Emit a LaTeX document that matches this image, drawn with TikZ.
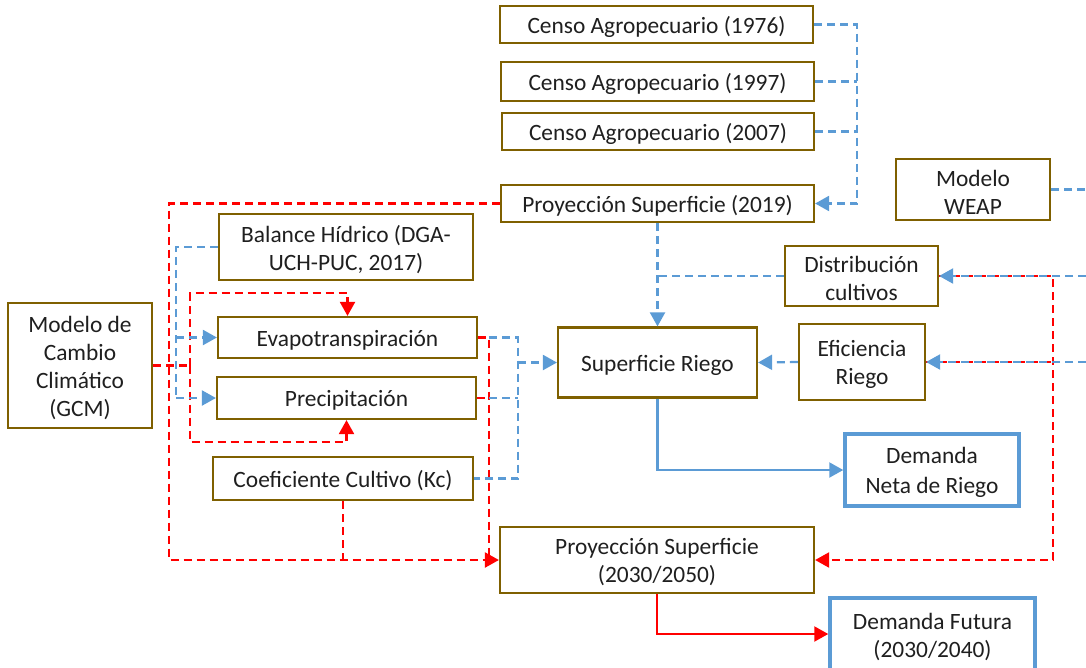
\documentclass[tikz,border=0pt]{standalone}
\usepackage{fontspec}
\setmainfont{Carlito}
\usetikzlibrary{arrows.meta}
\definecolor{boxbrown}{HTML}{7F6000}
\definecolor{flowblue}{HTML}{5B9BD5}
\definecolor{flowred}{HTML}{FF0000}
% frame node plus its label, set slightly low as in the slide layout
\newcommand{\boxnode}[7][box]{%
  \node[#1, minimum width=#5pt, minimum height=#6pt] (#2) at (#3,#4) {};
  \node[boxtext] at (#3,#4+2.5) {#7};}
\begin{document}
\begin{tikzpicture}[x=1pt,y=-1pt,
  box/.style={draw=boxbrown, line width=2.2pt, fill=white, inner sep=0pt},
  outbox/.style={box, draw=flowblue, line width=3.5pt},
  boxtext/.style={inner sep=0pt, align=center,
    font=\fontsize{23.4}{28}\selectfont, text=black!88},
  tip/.style={-{Triangle[length=14pt,width=15pt]}},
  bd/.style={draw=flowblue, line width=2.2pt, dash pattern=on 8pt off 5pt},
  rd/.style={draw=flowred, line width=2.2pt, dash pattern=on 8pt off 5pt},
  bs/.style={draw=flowblue, line width=2.2pt},
  rs/.style={draw=flowred, line width=2.2pt}]
\useasboundingbox (0,0) rectangle (1086,667);

% ---- boxes ----
\boxnode{c76}{656.5}{24.5}{313}{37}{Censo Agropecuario (1976)}
\boxnode{c97}{657.5}{81.5}{313}{39}{Censo Agropecuario (1997)}
\boxnode{c07}{658}{131.5}{312}{37}{Censo Agropecuario (2007)}
\boxnode{p19}{657.5}{203.5}{313}{37}{Proyección Superficie (2019)}
\boxnode{weap}{973}{189.5}{154}{61}{Modelo\\WEAP}
\boxnode{bal}{346}{247}{254}{66}{Balance Hídrico (DGA-\\UCH-PUC, 2017)}
\boxnode{evap}{347.5}{337.5}{259}{41}{Evapotranspiración}
\boxnode{prec}{346.5}{398}{259}{42}{Precipitación}
\boxnode{kc}{343}{478.5}{260}{43}{Coeficiente Cultivo (Kc)}
\boxnode{gcm}{80}{365.5}{144}{125}{Modelo de\\Cambio\\Climático\\(GCM)}
\boxnode{dist}{861.5}{276}{153}{60}{Distribución\\cultivos}
\boxnode{efic}{862}{362}{126}{76}{Eficiencia\\Riego}
\boxnode{sr}{657.5}{362.5}{199}{70}{Superficie Riego}
\boxnode[outbox]{dn}{932}{470}{174}{72}{Demanda\\[2pt]Neta de Riego}
\boxnode{p30}{657}{560}{314}{66}{Proyección Superficie\\(2030/2050)}
\boxnode[outbox]{df}{932.5}{634}{205}{72}{Demanda Futura\\(2030/2040)}

% ---- junction points ----
\coordinate (busT) at (857,24.5);
\coordinate (busB) at (857,203.5);
\coordinate (weapOut) at (1086,189.5);
\coordinate (distIn) at (1086,276);
\coordinate (eficIn) at (1086,362);
\coordinate (balBus) at (176,398);
\coordinate (rBus) at (518,337.5);
\coordinate (gJ) at (190,365.5);
\coordinate (outerL) at (169,560);
\coordinate (redMid) at (489,337.5);
\coordinate (redR) at (1053,276);

% ---- red dashed links ----
\draw[rd, tip] (p19.west) -| (outerL) -- (p30.west);
\draw[rd] (gcm.east) -- (gJ);
\draw[rd, tip] (gJ) -- (190,293) -| (evap.north);
\draw[rd, tip] (gJ) -- (190,442) -| (prec.south);
\draw[rd] (kc.south) -- (kc.south |- p30.west);
\draw[rd] (evap.east) -- (redMid) -- (redMid |- p30.west);
\draw[rd] (prec.east) -- (prec.east -| redMid);
\draw[rd, tip] (dist.east) -- (redR) -- (redR |- p30.east) -- (p30.east);
\draw[rd] (efic.east) -- (efic.east -| redR);

% ---- blue dashed links ----
\draw[bd, tip] (c76.east) -- (busT) -- (busB) -- (p19.east);
\draw[bd] (c97.east) -- (c97.east -| busT);
\draw[bd] (c07.east) -- (c07.east -| busT);
\draw[bd] (weap.east) -- (weapOut);
\draw[bd, tip] (distIn) -- (dist.east);
\draw[bd, tip] (eficIn) -- (efic.east);
\draw[bd, tip] (p19.south) -- (p19.south |- sr.north);
\draw[bd] (dist.west) -- (dist.west -| p19.south);
\draw[bd, tip] (efic.west) -- (sr.east);
\draw[bd] (bal.west) -| (balBus);
\draw[bd, tip] (balBus) -- (prec.west);
\draw[bd, tip] (evap.west -| balBus) -- (evap.west);
\draw[bd] (redMid) -- (rBus) -- (rBus |- kc.east) -- (kc.east);
\draw[bd] (prec.east -| redMid) -- (prec.east -| rBus);
\draw[bd, tip] (rBus |- sr.west) -- (sr.west);

% ---- solid outputs ----
\draw[bs, tip] (sr.south) |- (dn.west);
\draw[rs, tip] (p30.south) |- (df.west);
\end{tikzpicture}
\end{document}
